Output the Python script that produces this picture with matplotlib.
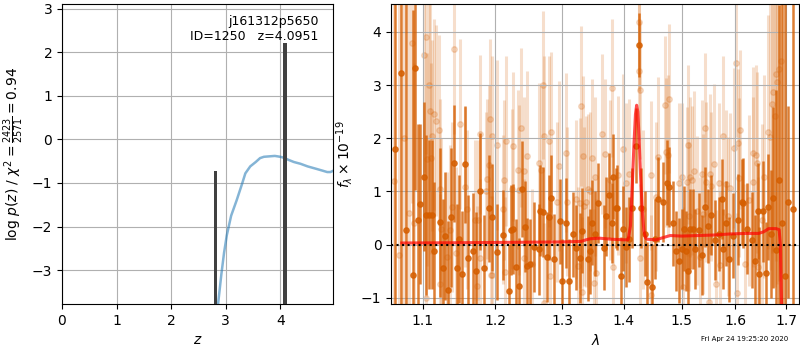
import matplotlib
matplotlib.use('Agg')
import matplotlib.pyplot as plt
from matplotlib.ticker import NullLocator, NullFormatter

# ---- left panel: log p(z) ----
pz_z = [2.86, 2.92, 2.97, 3.02, 3.10, 3.20, 3.30, 3.36, 3.45, 3.55, 3.63, 3.70, 3.80, 3.90,
        4.00, 4.06, 4.15, 4.25, 4.37, 4.50, 4.67, 4.78, 4.86, 4.92, 4.97]
pz_log = [-3.78, -3.10, -2.60, -2.20, -1.75, -1.40, -1.02, -0.78, -0.62, -0.52, -0.43, -0.40, -0.39, -0.38,
          -0.40, -0.42, -0.47, -0.52, -0.56, -0.62, -0.68, -0.72, -0.75, -0.75, -0.72]
peak_z = [2.81, 4.09]
peak_top = [-0.72, 2.22]
peak_width = [0.05, 0.07]

# ---- right panel: spectrum (f_lambda x 1e-19) ----
dark_wave = [1.0646, 1.0723, 1.0788, 1.0869, 1.0904, 1.0934, 1.0970, 1.1025, 1.1045, 1.1092, 1.1124, 1.1155,
             1.1227, 1.1272, 1.1303, 1.1334, 1.1375, 1.1416, 1.1457, 1.1485, 1.1526, 1.1568, 1.1609, 1.1679,
             1.1726, 1.1787, 1.1839, 1.1905, 1.1948,
             1.2033, 1.2111, 1.2193, 1.2228, 1.2266, 1.2310, 1.2354, 1.2390, 1.2429, 1.2473, 1.2518, 1.2578,
             1.2639, 1.2664, 1.2705, 1.2766, 1.2802, 1.2828, 1.2883, 1.2971, 1.3007, 1.3059, 1.3106, 1.3179,
             1.3222, 1.3280, 1.3317, 1.3409, 1.3446,
             1.3473, 1.3520, 1.3580, 1.3662, 1.3706, 1.3759, 1.3800, 1.3825, 1.3865, 1.3892, 1.3949, 1.3990,
             1.4037, 1.4080, 1.4133, 1.4201, 1.4253, 1.4292, 1.4350, 1.4400, 1.4476, 1.4530, 1.4591, 1.4668,
             1.4738, 1.4785, 1.4850, 1.4904, 1.4960, 1.5006, 1.5050, 1.5083, 1.5120, 1.5155,
             1.5200, 1.5246, 1.5325, 1.5380, 1.5430, 1.5480, 1.5535, 1.5616, 1.5690, 1.5741, 1.5771, 1.5830,
             1.5885, 1.5962, 1.6058, 1.6123, 1.6154, 1.6230, 1.6317, 1.6380, 1.6446, 1.6466, 1.6545, 1.6598,
             1.6645, 1.6700, 1.6744, 1.6800, 1.6860, 1.6920, 1.6981, 1.7050, 1.7138]
dark_flux = [1.80, 3.23, 0.27, -0.58, 3.32, 0.46, 0.76, 1.28, 0.56, 0.56, 0.56, -0.12,
             0.42, -0.44, 0.16, -0.86, 0.51, 1.53, -0.44, 0.11, -0.56, 1.51, -0.26, -0.13,
             -0.49, 1.00, -0.44, 0.68, 0.51,
             -0.14, 0.18, -0.88, 0.27, 0.29, -0.42, -0.78, 1.05, 0.34, -0.40, -0.36, -0.05,
             -0.09, 0.64, 0.61, -0.23, 0.51, 0.88, -0.27, 0.44, -0.69, 0.41, -0.69, 0.19,
             -0.06, -0.25, 0.26, -0.27, -0.13,
             0.41, 0.20, 0.78, -0.06, 0.53, 0.93, 0.40, 1.28, 0.69, 0.69, -0.60, 0.30,
             -0.04, 0.10, 0.69, 1.86, 3.76, 0.69, 0.20, -0.71, -0.79, 0.10, 0.85, 0.80,
             1.16, 1.08, 0.40, -0.12, -0.30, -0.09, 0.30, -0.12, -0.50, 0.30,
             0.30, -0.08, 0.27, -0.20, 0.71, 0.35, 0.55, 0.09, 0.20, 0.85, -0.08, 0.40,
             -0.28, 0.17, 0.47, 0.80, 0.78, 0.30, 0.09, -0.30, 0.63, -0.56, 0.63, -0.53,
             0.71, 0.20, 0.88, -0.10, 1.21, 0.40, -0.59, 0.80, 0.66]
dark_err = [6.0, 6.0, 5.0, 5.0, 2.3, 1.8, 1.5, 1.4, 1.5, 1.4, 1.4, 1.3,
            1.4, 1.3, 1.2, 1.3, 1.3, 1.1, 1.2, 1.2, 1.2, 1.1, 1.2, 1.1,
            1.1, 1.1, 1.0, 1.0, 1.0,
            0.9, 0.85, 0.9, 0.85, 0.85, 0.9, 0.9, 0.9, 0.85, 0.9, 0.85, 0.85,
            0.85, 0.85, 0.85, 0.85, 0.8, 0.8, 0.85, 0.8, 0.8, 0.85, 0.8, 0.8,
            0.8, 0.85, 0.8, 0.8, 0.8,
            0.8, 0.8, 0.75, 0.8, 0.75, 0.8, 0.75, 0.8, 0.75, 0.8, 0.75, 0.8,
            0.75, 0.8, 0.75, 0.7, 0.6, 0.75, 0.8, 0.75, 0.8, 0.75, 0.8, 0.75,
            0.8, 0.75, 0.8, 0.75, 0.8, 0.75, 0.8, 0.75, 0.8, 0.75,
            0.75, 0.75, 0.7, 0.75, 0.75, 0.7, 0.75, 0.75, 0.7, 0.75, 0.75, 0.8,
            0.8, 0.8, 0.85, 0.8, 0.85, 0.85, 0.9, 0.85, 0.9, 0.9, 0.95, 0.95,
            1.0, 1.2, 1.7, 3.0, 3.3, 5.0, 6.0, 1.8, 6.0]

light_wave = [1.0630, 1.0700, 1.0760, 1.0820, 1.0865, 1.0882, 1.1014, 1.1045, 1.1050, 1.1060, 1.1080, 1.1102,
              1.1110, 1.1132, 1.1146, 1.1178, 1.1213, 1.1230, 1.1235, 1.1245, 1.1325, 1.1371, 1.1395, 1.1429,
              1.1447, 1.1508, 1.1577, 1.1595, 1.1716, 1.1745, 1.1760, 1.1787, 1.1790, 1.1870, 1.1890, 1.1905,
              1.1929, 1.1935, 1.1950,
              1.1960, 1.2025, 1.2120, 1.2130, 1.2135, 1.2159, 1.2240, 1.2252, 1.2325, 1.2340, 1.2380, 1.2414,
              1.2420, 1.2464, 1.2540, 1.2649, 1.2680, 1.2705, 1.2715, 1.2725, 1.2793, 1.2808, 1.2830, 1.2920,
              1.2960, 1.3059, 1.3072, 1.3222, 1.3250, 1.3275, 1.3306, 1.3310, 1.3325, 1.3350, 1.3372, 1.3418,
              1.3450,
              1.3473, 1.3505, 1.3530, 1.3535, 1.3635, 1.3690, 1.3770, 1.3799, 1.3825, 1.3909, 1.3992, 1.4037,
              1.4090, 1.4255, 1.4263, 1.4270, 1.4280, 1.4330, 1.4465, 1.4470, 1.4550, 1.4591, 1.4708, 1.4725,
              1.4765, 1.4785, 1.4950, 1.5006, 1.5035, 1.5095, 1.5125, 1.5128, 1.5155,
              1.5190, 1.5230, 1.5280, 1.5340, 1.5370, 1.5400, 1.5430, 1.5440, 1.5495, 1.5525, 1.5530, 1.5600,
              1.5630, 1.5690, 1.5700, 1.5755, 1.5815, 1.5850, 1.5905, 1.5975, 1.6013, 1.6025, 1.6058, 1.6075,
              1.6090, 1.6180, 1.6270, 1.6335, 1.6350, 1.6395, 1.6415, 1.6445, 1.6510, 1.6560, 1.6645, 1.6680,
              1.6710, 1.6744, 1.6775, 1.6800, 1.6825, 1.6865, 1.6895]
light_flux = [1.20, -0.20, 2.00, 0.60, 3.79, 0.41, 3.56, 3.91, -1.00, 1.60, 3.00, 2.52,
              1.62, 2.05, 2.45, 2.33, 2.15, -0.75, 1.04, 0.30, -0.23, 0.27, 0.71, 3.68,
              -0.15, 2.26, 1.08, 0.66, 0.46, -0.78, 0.46, 2.07, -0.26, 1.00, 1.23, 1.50,
              2.37, -0.58, 2.05,
              -0.58, 1.87, 0.66, 1.21, -0.51, 1.95, 1.05, 1.85, 1.41, 1.03, 2.20, 1.38,
              -0.26, 1.67, -0.36, 1.53, 1.40, 3.00, -1.10, 2.05, 1.94, -0.59, 2.12, 0.80,
              1.48, 1.73, 0.81, 0.85, -0.41, 0.78, 2.61, -0.89, 1.67, 0.72, 0.81, 1.05,
              1.00,
              1.62, -0.73, 1.28, -0.54, 2.08, 1.71, 1.21, 2.95, -0.42, 1.30, 1.80, 1.16,
              1.33, 3.27, 4.18, 2.91, -0.26, 0.66, 1.30, -0.95, 0.90, 1.65, 2.62, 1.74,
              1.68, 2.74, 1.16, 1.27, -0.79, 1.18, 1.88, 0.53, 1.27,
              1.21, 1.38, 0.64, -0.23, 1.32, 0.58, 2.20, 1.18, -1.08, 1.33, 1.10, 1.52,
              -0.75, 1.16, -0.39, 2.05, 1.13, 0.53, 1.07, 1.82, 3.42, -0.91, 1.91, 1.26,
              2.16, -0.36, 0.83, 1.73, 1.18, 1.68, 1.54, -0.43, 0.47, 1.28, 2.11, 2.02,
              2.64, 2.87, 2.41, 3.20, 3.05, 3.31, 3.46]
light_err = [6.0, 6.0, 5.0, 4.5, 3.0, 3.0, 2.2, 2.2, 2.0, 2.0, 2.0, 2.0,
             1.8, 1.8, 1.8, 1.8, 1.8, 1.7, 1.7, 1.7, 1.6, 1.6, 1.6, 1.6,
             1.6, 1.6, 1.5, 1.5, 1.5, 1.5, 1.5, 1.5, 1.5, 1.5, 1.5, 1.5,
             1.5, 1.5, 1.5,
             1.5, 1.6, 1.4, 1.5, 1.4, 1.6, 1.5, 1.4, 1.5, 1.6, 1.5, 1.4,
             1.5, 1.6, 1.4, 1.5, 1.6, 1.4, 1.5, 1.5, 1.6, 1.4, 1.5, 1.5,
             1.6, 1.5, 1.4, 1.5, 1.5, 1.6, 1.5, 1.4, 1.5, 1.5, 1.6, 1.4,
             1.5,
             1.5, 1.4, 1.5, 1.4, 1.5, 1.4, 1.5, 1.3, 1.4, 1.5, 1.4, 1.5,
             1.4, 1.3, 1.3, 1.3, 1.4, 1.5, 1.4, 1.5, 1.4, 1.5, 1.3, 1.4,
             1.5, 1.4, 1.5, 1.4, 1.5, 1.4, 1.5, 1.4, 1.5,
             1.4, 1.5, 1.4, 1.5, 1.4, 1.5, 1.4, 1.5, 1.4, 1.5, 1.4, 1.5,
             1.4, 1.5, 1.4, 1.5, 1.4, 1.5, 1.4, 1.5, 1.4, 1.5, 1.4, 1.5,
             1.5, 1.5, 1.6, 1.6, 1.6, 1.7, 1.7, 1.7, 1.8, 1.9, 2.2, 2.5,
             2.8, 3.0, 3.2, 3.5, 3.8, 4.0, 4.0]

model_wave = [1.073, 1.150, 1.200, 1.250, 1.300, 1.330, 1.338, 1.345, 1.360, 1.380, 1.400, 1.407,
              1.411, 1.414, 1.417, 1.4195, 1.4215, 1.4235, 1.4255, 1.428, 1.431, 1.434, 1.437, 1.440,
              1.455, 1.470, 1.480, 1.500, 1.530, 1.560, 1.590, 1.620, 1.645, 1.655, 1.665, 1.680,
              1.686, 1.6885, 1.6900, 1.6920]
model_flux = [0.03, 0.035, 0.04, 0.045, 0.05, 0.06, 0.09, 0.11, 0.12, 0.10, 0.09, 0.09,
              0.35, 1.10, 1.90, 2.45, 2.62, 2.50, 2.05, 1.35, 0.65, 0.25, 0.12, 0.10,
              0.09, 0.14, 0.17, 0.16, 0.17, 0.18, 0.20, 0.21, 0.21, 0.24, 0.30, 0.30,
              0.28, 0.00, -0.80, -1.50]

wave_ticks = [1.1, 1.2, 1.3, 1.4, 1.5, 1.6, 1.7]
spec_color = (0.835, 0.369, 0.0)

fig = plt.figure(figsize=(8, 3.5), dpi=100)
ax1 = fig.add_axes([0.0775, 0.131, 0.339, 0.857])
ax2 = fig.add_axes([0.489, 0.131, 0.510, 0.857])

# p(z)
ax1.plot(pz_z, pz_log, color='C0', alpha=0.55, lw=1.8)
for zz, top, w in zip(peak_z, peak_top, peak_width):
    ax1.bar(zz, top + 3.78, bottom=-3.78, width=w, color='0.25', zorder=3)
ax1.set_xlim(0, 4.97)
ax1.set_ylim(-3.78, 3.1)
ax1.set_xticks([0, 1, 2, 3, 4])
ax1.set_yticks([-3, -2, -1, 0, 1, 2, 3])
ax1.grid(True)
ax1.set_axisbelow(True)
ax1.set_xlabel('$z$')
ax1.set_ylabel(r'log $p(z)$ / $\chi^2=\frac{2423}{2571}=0.94$')
ax1.text(0.945, 0.965, 'j161312p5650\nID=1250   z=4.0951', transform=ax1.transAxes,
         ha='right', va='top', fontsize=9)

# spectrum
ax2.errorbar(light_wave, light_flux, yerr=light_err, fmt='o', color=spec_color, alpha=0.2,
             ms=4, elinewidth=2.2, capsize=0, zorder=1)
ax2.errorbar(dark_wave, dark_flux, yerr=dark_err, fmt='o', color=spec_color, alpha=0.8,
             ms=3.8, elinewidth=1.8, capsize=0, zorder=2)
ax2.plot(model_wave, model_flux, color='r', alpha=0.7, lw=2.2, zorder=4)
ax2.axhline(0, color='k', linestyle=':', lw=1.5, zorder=5)
ax2.set_xscale('log')
ax2.set_xlim(1.0595, 1.727)
ax2.set_ylim(-1.12, 4.52)
ax2.set_xticks(wave_ticks)
ax2.set_xticklabels([str(t) for t in wave_ticks])
ax2.xaxis.set_minor_locator(NullLocator())
ax2.xaxis.set_minor_formatter(NullFormatter())
ax2.set_yticks([-1, 0, 1, 2, 3, 4])
ax2.grid(True)
ax2.set_xlabel(r'$\lambda$')
ax2.set_ylabel(r'$f_\lambda\times10^{-19}$')

fig.text(0.985, 0.031, 'Fri Apr 24 19:25:20 2020', ha='right', va='center', fontsize=5)

fig.savefig('out.png', dpi=100)
